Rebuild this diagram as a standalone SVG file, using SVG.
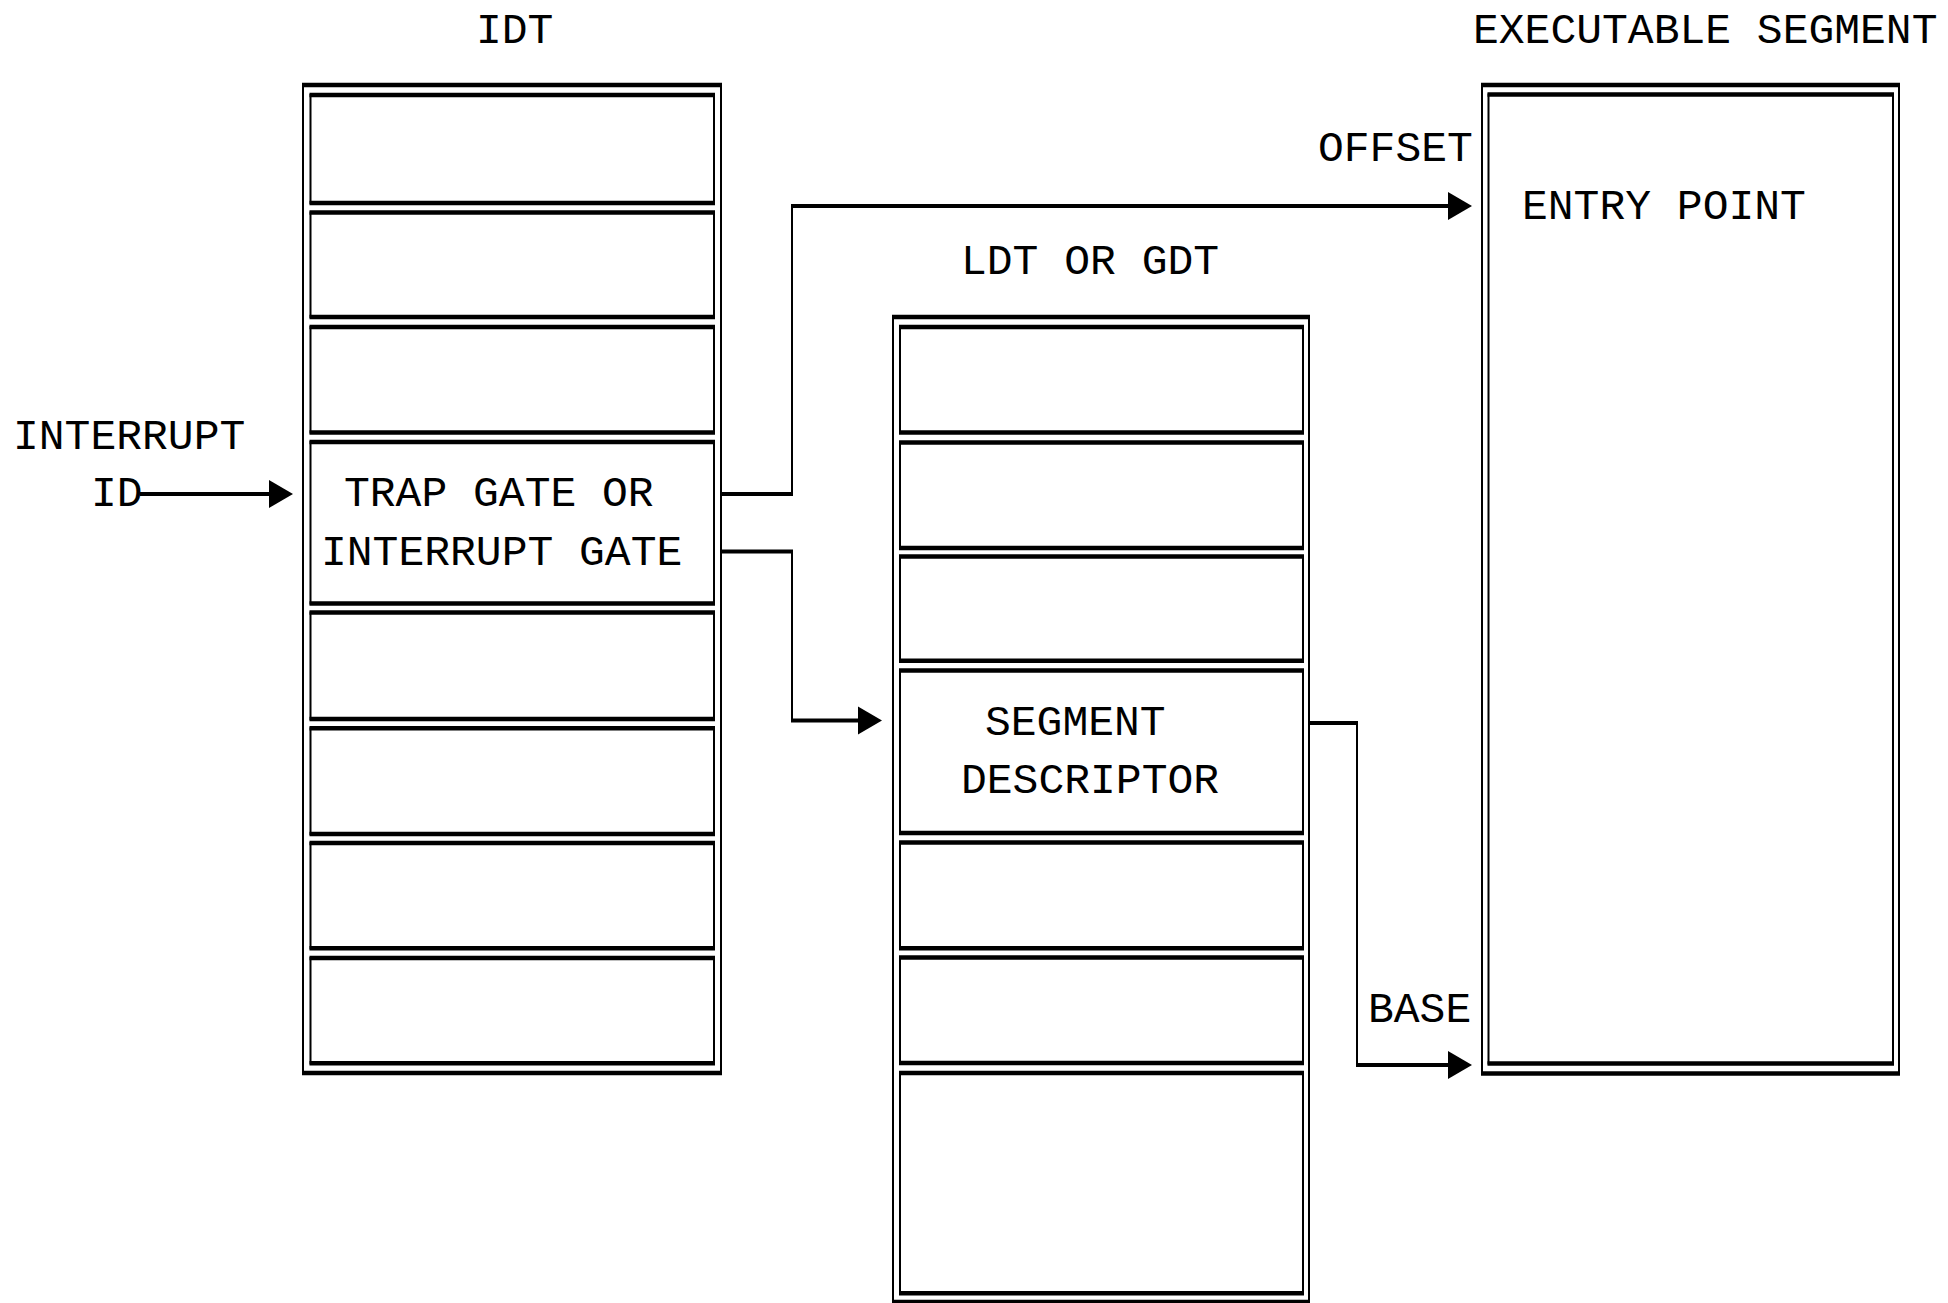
<svg xmlns="http://www.w3.org/2000/svg" width="1948" height="1303" viewBox="0 0 1948 1303">
<style>
.v{fill:none;stroke:#000;stroke-width:2}
.h{stroke:#000;stroke-width:4.5}
.c{fill:none;stroke:#000;stroke-width:2}
.ch{fill:none;stroke:#000;stroke-width:4}
.t{font-family:"Liberation Mono","Courier New",monospace;font-size:43px;fill:#000}
</style>
<defs>
<marker id="ah" markerUnits="userSpaceOnUse" markerWidth="24" markerHeight="28" refX="0" refY="14" orient="auto" overflow="visible">
<path d="M0,0 L24,14 L0,28 Z" fill="#000"/>
</marker>
</defs>
<rect width="1948" height="1303" fill="#fff"/>

<g id="idt">
<text class="t" x="476" y="43">IDT</text>
<rect class="v" x="303" y="85" width="418" height="988"/>
<line class="h" x1="302" y1="85" x2="722" y2="85"/>
<line class="h" x1="302" y1="1073" x2="722" y2="1073"/>
<g id="idt-rows">
<rect class="v" x="310.5" y="95" width="403.5" height="108"/><line class="h" x1="309.5" y1="95" x2="715" y2="95"/><line class="h" x1="309.5" y1="203" x2="715" y2="203"/>
<rect class="v" x="310.5" y="212.5" width="403.5" height="104.5"/><line class="h" x1="309.5" y1="212.5" x2="715" y2="212.5"/><line class="h" x1="309.5" y1="317" x2="715" y2="317"/>
<rect class="v" x="310.5" y="327" width="403.5" height="105.5"/><line class="h" x1="309.5" y1="327" x2="715" y2="327"/><line class="h" x1="309.5" y1="432.5" x2="715" y2="432.5"/>
<g id="idt-gate">
<rect class="v" x="310.5" y="442" width="403.5" height="161.5"/><line class="h" x1="309.5" y1="442" x2="715" y2="442"/><line class="h" x1="309.5" y1="603.5" x2="715" y2="603.5"/>
<text class="t" x="344" y="506">TRAP GATE OR</text>
<text class="t" x="321" y="565">INTERRUPT GATE</text>
</g>
<rect class="v" x="310.5" y="612.5" width="403.5" height="106.5"/><line class="h" x1="309.5" y1="612.5" x2="715" y2="612.5"/><line class="h" x1="309.5" y1="719" x2="715" y2="719"/>
<rect class="v" x="310.5" y="728.3" width="403.5" height="105.7"/><line class="h" x1="309.5" y1="728.3" x2="715" y2="728.3"/><line class="h" x1="309.5" y1="834" x2="715" y2="834"/>
<rect class="v" x="310.5" y="843" width="403.5" height="105.3"/><line class="h" x1="309.5" y1="843" x2="715" y2="843"/><line class="h" x1="309.5" y1="948.3" x2="715" y2="948.3"/>
<rect class="v" x="310.5" y="958" width="403.5" height="105.3"/><line class="h" x1="309.5" y1="958" x2="715" y2="958"/><line class="h" x1="309.5" y1="1063.3" x2="715" y2="1063.3"/>
</g>
</g>

<g id="ldt">
<text class="t" x="961" y="274">LDT OR GDT</text>
<rect class="v" x="893" y="317" width="416" height="985"/>
<line class="h" x1="892" y1="317" x2="1310" y2="317"/>
<line class="h" x1="892" y1="1302" x2="1310" y2="1302"/>
<g id="ldt-rows">
<rect class="v" x="900" y="327" width="403" height="105.5"/><line class="h" x1="899" y1="327" x2="1304" y2="327"/><line class="h" x1="899" y1="432.5" x2="1304" y2="432.5"/>
<rect class="v" x="900" y="442.5" width="403" height="105.5"/><line class="h" x1="899" y1="442.5" x2="1304" y2="442.5"/><line class="h" x1="899" y1="548" x2="1304" y2="548"/>
<rect class="v" x="900" y="556.5" width="403" height="104.2"/><line class="h" x1="899" y1="556.5" x2="1304" y2="556.5"/><line class="h" x1="899" y1="660.7" x2="1304" y2="660.7"/>
<g id="ldt-segdesc">
<rect class="v" x="900" y="670.5" width="403" height="162.5"/><line class="h" x1="899" y1="670.5" x2="1304" y2="670.5"/><line class="h" x1="899" y1="833" x2="1304" y2="833"/>
<text class="t" x="985" y="735">SEGMENT</text>
<text class="t" x="961" y="793">DESCRIPTOR</text>
</g>
<rect class="v" x="900" y="842.5" width="403" height="105.8"/><line class="h" x1="899" y1="842.5" x2="1304" y2="842.5"/><line class="h" x1="899" y1="948.3" x2="1304" y2="948.3"/>
<rect class="v" x="900" y="957.5" width="403" height="105.5"/><line class="h" x1="899" y1="957.5" x2="1304" y2="957.5"/><line class="h" x1="899" y1="1063" x2="1304" y2="1063"/>
<rect class="v" x="900" y="1073" width="403" height="220.3"/><line class="h" x1="899" y1="1073" x2="1304" y2="1073"/><line class="h" x1="899" y1="1293.3" x2="1304" y2="1293.3"/>
</g>
</g>

<g id="exec">
<text class="t" x="1473" y="43">EXECUTABLE SEGMENT</text>
<rect class="v" x="1482" y="85" width="417" height="988.5"/>
<line class="h" x1="1481" y1="85" x2="1900" y2="85"/>
<line class="h" x1="1481" y1="1073.5" x2="1900" y2="1073.5"/>
<rect class="v" x="1488.5" y="94.5" width="404.5" height="969"/>
<line class="h" x1="1487.5" y1="94.5" x2="1894" y2="94.5"/>
<line class="h" x1="1487.5" y1="1063.5" x2="1894" y2="1063.5"/>
<text class="t" x="1522" y="219">ENTRY POINT</text>
</g>

<g id="interrupt-id">
<text class="t" x="13" y="449">INTERRUPT</text>
<text class="t" x="91" y="506">ID</text>
</g>

<g id="connectors">
<g id="c-id">
<line class="ch" x1="140" y1="494" x2="269" y2="494" marker-end="url(#ah)"/>
</g>
<g id="c-offset">
<line class="ch" x1="721" y1="494" x2="793" y2="494"/>
<line class="c" x1="792" y1="495" x2="792" y2="205"/>
<line class="ch" x1="791" y1="206" x2="1448" y2="206" marker-end="url(#ah)"/>
<text class="t" x="1318" y="161">OFFSET</text>
</g>
<g id="c-seg">
<line class="ch" x1="721" y1="551.5" x2="793" y2="551.5"/>
<line class="c" x1="792" y1="550" x2="792" y2="721"/>
<line class="ch" x1="791" y1="720.5" x2="858" y2="720.5" marker-end="url(#ah)"/>
</g>
<g id="c-base">
<line class="ch" x1="1309" y1="723" x2="1358" y2="723"/>
<line class="c" x1="1357" y1="722" x2="1357" y2="1066"/>
<line class="ch" x1="1356" y1="1065" x2="1448" y2="1065" marker-end="url(#ah)"/>
<text class="t" x="1368" y="1022">BASE</text>
</g>
</g>
</svg>
